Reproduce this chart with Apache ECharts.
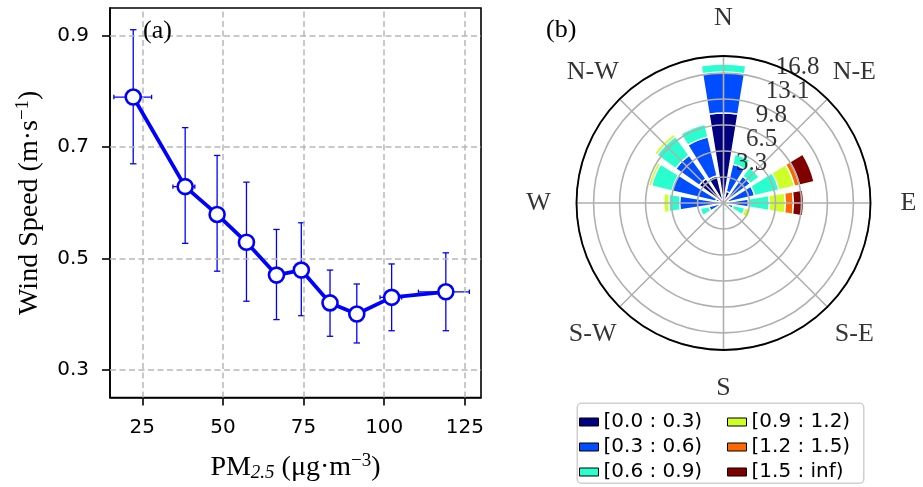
<!DOCTYPE html>
<html>
<head>
<meta charset="utf-8">
<script src="https://cdn.jsdelivr.net/npm/echarts@6/dist/echarts.min.js"></script>
<style>html,body{margin:0;padding:0;background:#fff}#c{width:923px;height:487px}</style>
</head>
<body>
<div id="c"></div>
<script>
// ---------- Panel (a) data ----------
const pm25      = [22.2, 38.3, 48.2, 57.3, 66.6, 74.3, 83.2, 91.5, 102.3, 119.1];
const windSpeed = [0.790, 0.629, 0.579, 0.529, 0.470, 0.479, 0.420, 0.400, 0.430, 0.440];
const wsLow     = [0.670, 0.527, 0.477, 0.423, 0.390, 0.397, 0.360, 0.348, 0.370, 0.370];
const wsHigh    = [0.911, 0.735, 0.685, 0.637, 0.552, 0.564, 0.479, 0.454, 0.490, 0.510];
const pmLow     = [16.2, 34.5, 46.3, 55.4, 64.8, 72.6, 81.5, 89.8, 98.7, 110.6];
const pmHigh    = [27.9, 41.3, 50.1, 59.2, 68.4, 76.0, 84.9, 93.2, 105.4, 126.4];
const xTicks = [25, 50, 75, 100, 125];
const yTicks = [0.3, 0.5, 0.7, 0.9];

// ---------- Panel (b) data ----------
const directions16 = ['N','NNE','NE','ENE','E','ESE','SE','SSE','S','SSW','SW','WSW','W','WNW','NW','NNW'];
const compassLabels = ['N','N-E','E','S-E','S','S-W','W','N-W'];
const speedBins = ['[0.0 : 0.3)','[0.3 : 0.6)','[0.6 : 0.9)','[0.9 : 1.2)','[1.2 : 1.5)','[1.5 : inf)'];
const binColors = ['#000080','#004cff','#29ffce','#ceff29','#ff6800','#800000'];
const bin0 = [11.33,1.51,1.01,0.63,0.38,0.25,0,0,0,0,0,0.13,0.50,1.01,3.78,3.52];
const bin1 = [5.16,3.52,3.15,3.40,2.77,1.01,0.63,0.38,0.25,0.50,1.01,1.76,5.03,5.66,3.65,5.03];
const bin2 = [1.01,1.26,1.38,3.15,2.64,1.51,0.50,0.63,0.38,0.25,0.50,1.13,1.38,2.64,2.89,1.64];
const bin3 = [0,0,0,2.01,2.01,0.76,0.25,0,0,0,0,0,0.63,0.38,0.38,0];
const bin4 = [0,0,0,0.63,1.01,0,0,0,0,0,0,0,0,0,0,0];
const bin5 = [0,0,0,1.89,1.26,0,0,0,0,0,0,0,0,0,0,0];
const binValues = [bin0, bin1, bin2, bin3, bin4, bin5];
const rTickValues = [3.27, 6.54, 9.81, 13.08, 16.35];
const rTickLabels = ['3.3', '6.5', '9.8', '13.1', '16.8'];
const rMax = 18.5;

const SERIF = 'Liberation Serif';
const SANS = 'DejaVu Sans';
const BLUE = '#0000ff';
const GRID_GREY = '#b0b0b0';
const CX = 723.5, CY = 203;

const chart = echarts.init(document.getElementById('c'), null, {renderer: 'canvas'});

const errData = pm25.map((x, i) => [x, windSpeed[i], wsLow[i], wsHigh[i], pmLow[i], pmHigh[i]]);

const series = [];
// dashed grid lines (panel a)
series.push({
  type: 'line', xAxisIndex: 0, yAxisIndex: 0, data: [], z: 1, silent: true,
  markLine: {
    silent: true, symbol: ['none', 'none'], animation: false,
    label: {show: false},
    lineStyle: {type: [6, 3.5], color: '#b8b8b8', width: 1.5},
    data: xTicks.map(v => ({xAxis: v})).concat(yTicks.map(v => ({yAxis: v})))
  }
});
// error bars
series.push({
  type: 'custom', xAxisIndex: 0, yAxisIndex: 0, z: 3, silent: true,
  data: errData,
  encode: {x: [0, 4, 5], y: [1, 2, 3]},
  renderItem: function (params, api) {
    const x = api.value(0), y = api.value(1);
    const lo = api.coord([x, api.value(2)]);
    const hi = api.coord([x, api.value(3)]);
    const xl = api.coord([api.value(4), y]);
    const xh = api.coord([api.value(5), y]);
    const c = 3.2, cv = 2.2;
    const st = {stroke: BLUE, lineWidth: 1.3, fill: null};
    const L = (x1, y1, x2, y2) => ({type: 'line', shape: {x1, y1, x2, y2}, style: st});
    return {type: 'group', children: [
      L(lo[0], lo[1], hi[0], hi[1]),
      L(lo[0] - c, lo[1], lo[0] + c, lo[1]),
      L(hi[0] - c, hi[1], hi[0] + c, hi[1]),
      L(xl[0], xl[1], xh[0], xh[1]),
      L(xl[0], xl[1] - cv, xl[0], xl[1] + cv),
      L(xh[0], xh[1] - cv, xh[0], xh[1] + cv)
    ]};
  }
});
// main line
series.push({
  type: 'line', xAxisIndex: 0, yAxisIndex: 0, z: 5,
  data: pm25.map((x, i) => [x, windSpeed[i]]),
  symbol: 'circle', symbolSize: 15, showSymbol: true,
  lineStyle: {color: BLUE, width: 3.8},
  itemStyle: {color: '#fff', borderColor: BLUE, borderWidth: 2.6}
});
// wind rose stacked bars
speedBins.forEach((name, k) => {
  series.push({
    type: 'bar', coordinateSystem: 'polar', polarIndex: 0, name: name, stack: 'rose',
    data: binValues[k].map(v => (v === 0 ? '-' : v)),
    barCategoryGap: '18%', z: 2,
    itemStyle: {color: binColors[k], borderColor: '#fff', borderWidth: 1.4}
  });
});
// radial labels
series.push({
  type: 'scatter', coordinateSystem: 'polar', polarIndex: 0, z: 20, silent: true,
  symbolSize: 1, itemStyle: {color: 'rgba(0,0,0,0)'},
  data: rTickValues.map((v, i) => ({value: [v, 1], name: rTickLabels[i]})),
  label: {show: true, position: 'right', distance: 0, offset: [2, -16], formatter: '{b}',
    fontFamily: SERIF, fontSize: 25, color: '#000'}
});
// compass labels
series.push({
  type: 'scatter', coordinateSystem: 'polar', polarIndex: 2, z: 20, silent: true,
  symbolSize: 1, itemStyle: {color: 'rgba(0,0,0,0)'},
  data: compassLabels.map((d, i) => ({value: [1, i], name: d})),
  label: {show: true, position: 'inside', formatter: '{b}',
    fontFamily: SERIF, fontSize: 26, color: '#000'}
});

function hiddenAxis() {
  return {axisLine: {show: false}, axisTick: {show: false}, axisLabel: {show: false}, splitLine: {show: false}};
}
function legendCommon() {
  return {
    type: 'plain', orient: 'vertical', icon: 'rect', itemWidth: 19, itemHeight: 8, itemGap: 5,
    height: 90, padding: 0,
    selectedMode: false,
    itemStyle: {borderColor: '#000', borderWidth: 1},
    textStyle: {fontFamily: SANS, fontSize: 20, lineHeight: 20, color: '#000'}
  };
}

const option = {
  animation: false,
  backgroundColor: '#fff',
  textStyle: {fontFamily: SANS},
  title: [
    {text: '(a)', left: 143, top: 18, padding: 0, textStyle: {fontFamily: SERIF, fontSize: 26, fontWeight: 'normal', color: '#000'}},
    {text: '(b)', left: 546, top: 17, padding: 0, textStyle: {fontFamily: SERIF, fontSize: 26, fontWeight: 'normal', color: '#000'}}
  ],
  grid: {left: 110, top: 8, width: 371, height: 392, show: true, borderColor: '#000', borderWidth: 1.6, backgroundColor: 'rgba(0,0,0,0)'},
  xAxis: {
    type: 'value', min: 15, max: 130,
    axisLine: {show: true, lineStyle: {color: '#000', width: 1.6}},
    axisTick: {show: true, length: 8, customValues: xTicks, lineStyle: {color: '#000', width: 1.6}},
    axisLabel: {show: true, customValues: xTicks, margin: 20, fontFamily: SANS, fontSize: 20, color: '#000'},
    splitLine: {show: false},
    name: 'PM{sub|2.5} (μg·m{sup|−3})', nameLocation: 'middle', nameGap: 54,
    nameTextStyle: {fontFamily: SERIF, fontSize: 28, color: '#000',
      rich: {sub: {fontFamily: SERIF, fontSize: 19, fontStyle: 'italic', color: '#000', padding: [10, 0, 0, 0]},
             sup: {fontFamily: SERIF, fontSize: 19, color: '#000', padding: [0, 0, 13, 0]}}}
  },
  yAxis: {
    type: 'value', min: 0.25, max: 0.95,
    axisLine: {show: true, lineStyle: {color: '#000', width: 1.6}},
    axisTick: {show: true, length: 8, customValues: yTicks, lineStyle: {color: '#000', width: 1.6}},
    axisLabel: {show: true, customValues: yTicks, margin: 21, fontFamily: SANS, fontSize: 20, color: '#000',
      formatter: v => v.toFixed(1)},
    splitLine: {show: false},
    name: 'Wind Speed (m·s{sup|−1})', nameLocation: 'middle', nameGap: 64,
    nameTextStyle: {fontFamily: SERIF, fontSize: 28, color: '#000',
      rich: {sup: {fontFamily: SERIF, fontSize: 19, color: '#000', padding: [0, 0, 13, 0]}}}
  },
  polar: [
    {center: [CX, CY], radius: 147},
    {center: [CX, CY], radius: 147},
    {center: [CX, CY], radius: 185}
  ],
  angleAxis: [
    Object.assign({polarIndex: 0, type: 'category', data: directions16, startAngle: 101.25, clockwise: true, boundaryGap: true}, hiddenAxis()),
    {polarIndex: 1, type: 'value', min: 0, max: 360, interval: 45, startAngle: 90, clockwise: true, z: 12,
      axisLine: {show: true, lineStyle: {color: '#000', width: 1.8}},
      axisTick: {show: false}, axisLabel: {show: false},
      splitLine: {show: true, lineStyle: {color: GRID_GREY, width: 1.6}}},
    Object.assign({polarIndex: 2, type: 'category', data: compassLabels, startAngle: 112.5, clockwise: true, boundaryGap: true}, hiddenAxis())
  ],
  radiusAxis: [
    {polarIndex: 0, type: 'value', min: 0, max: rMax, interval: 3.27, z: 11,
      axisLine: {show: false}, axisTick: {show: false}, axisLabel: {show: false},
      splitLine: {show: true, lineStyle: {color: GRID_GREY, width: 1.6}}},
    Object.assign({polarIndex: 1, type: 'value', min: 0, max: 1}, hiddenAxis()),
    Object.assign({polarIndex: 2, type: 'value', min: 0, max: 1}, hiddenAxis())
  ],
  legend: [
    Object.assign({left: 579, top: 412, data: speedBins.slice(0, 3)}, legendCommon()),
    Object.assign({left: 727, top: 412, data: speedBins.slice(3)}, legendCommon())
  ],
  graphic: [{
    type: 'rect', left: 576.5, top: 402.5, z: 0,
    shape: {width: 286.5, height: 80, r: 4},
    style: {fill: '#fff', stroke: '#d0d0d0', lineWidth: 1.5}
  }],
  series: series
};
chart.setOption(option);
</script>
</body>
</html>
